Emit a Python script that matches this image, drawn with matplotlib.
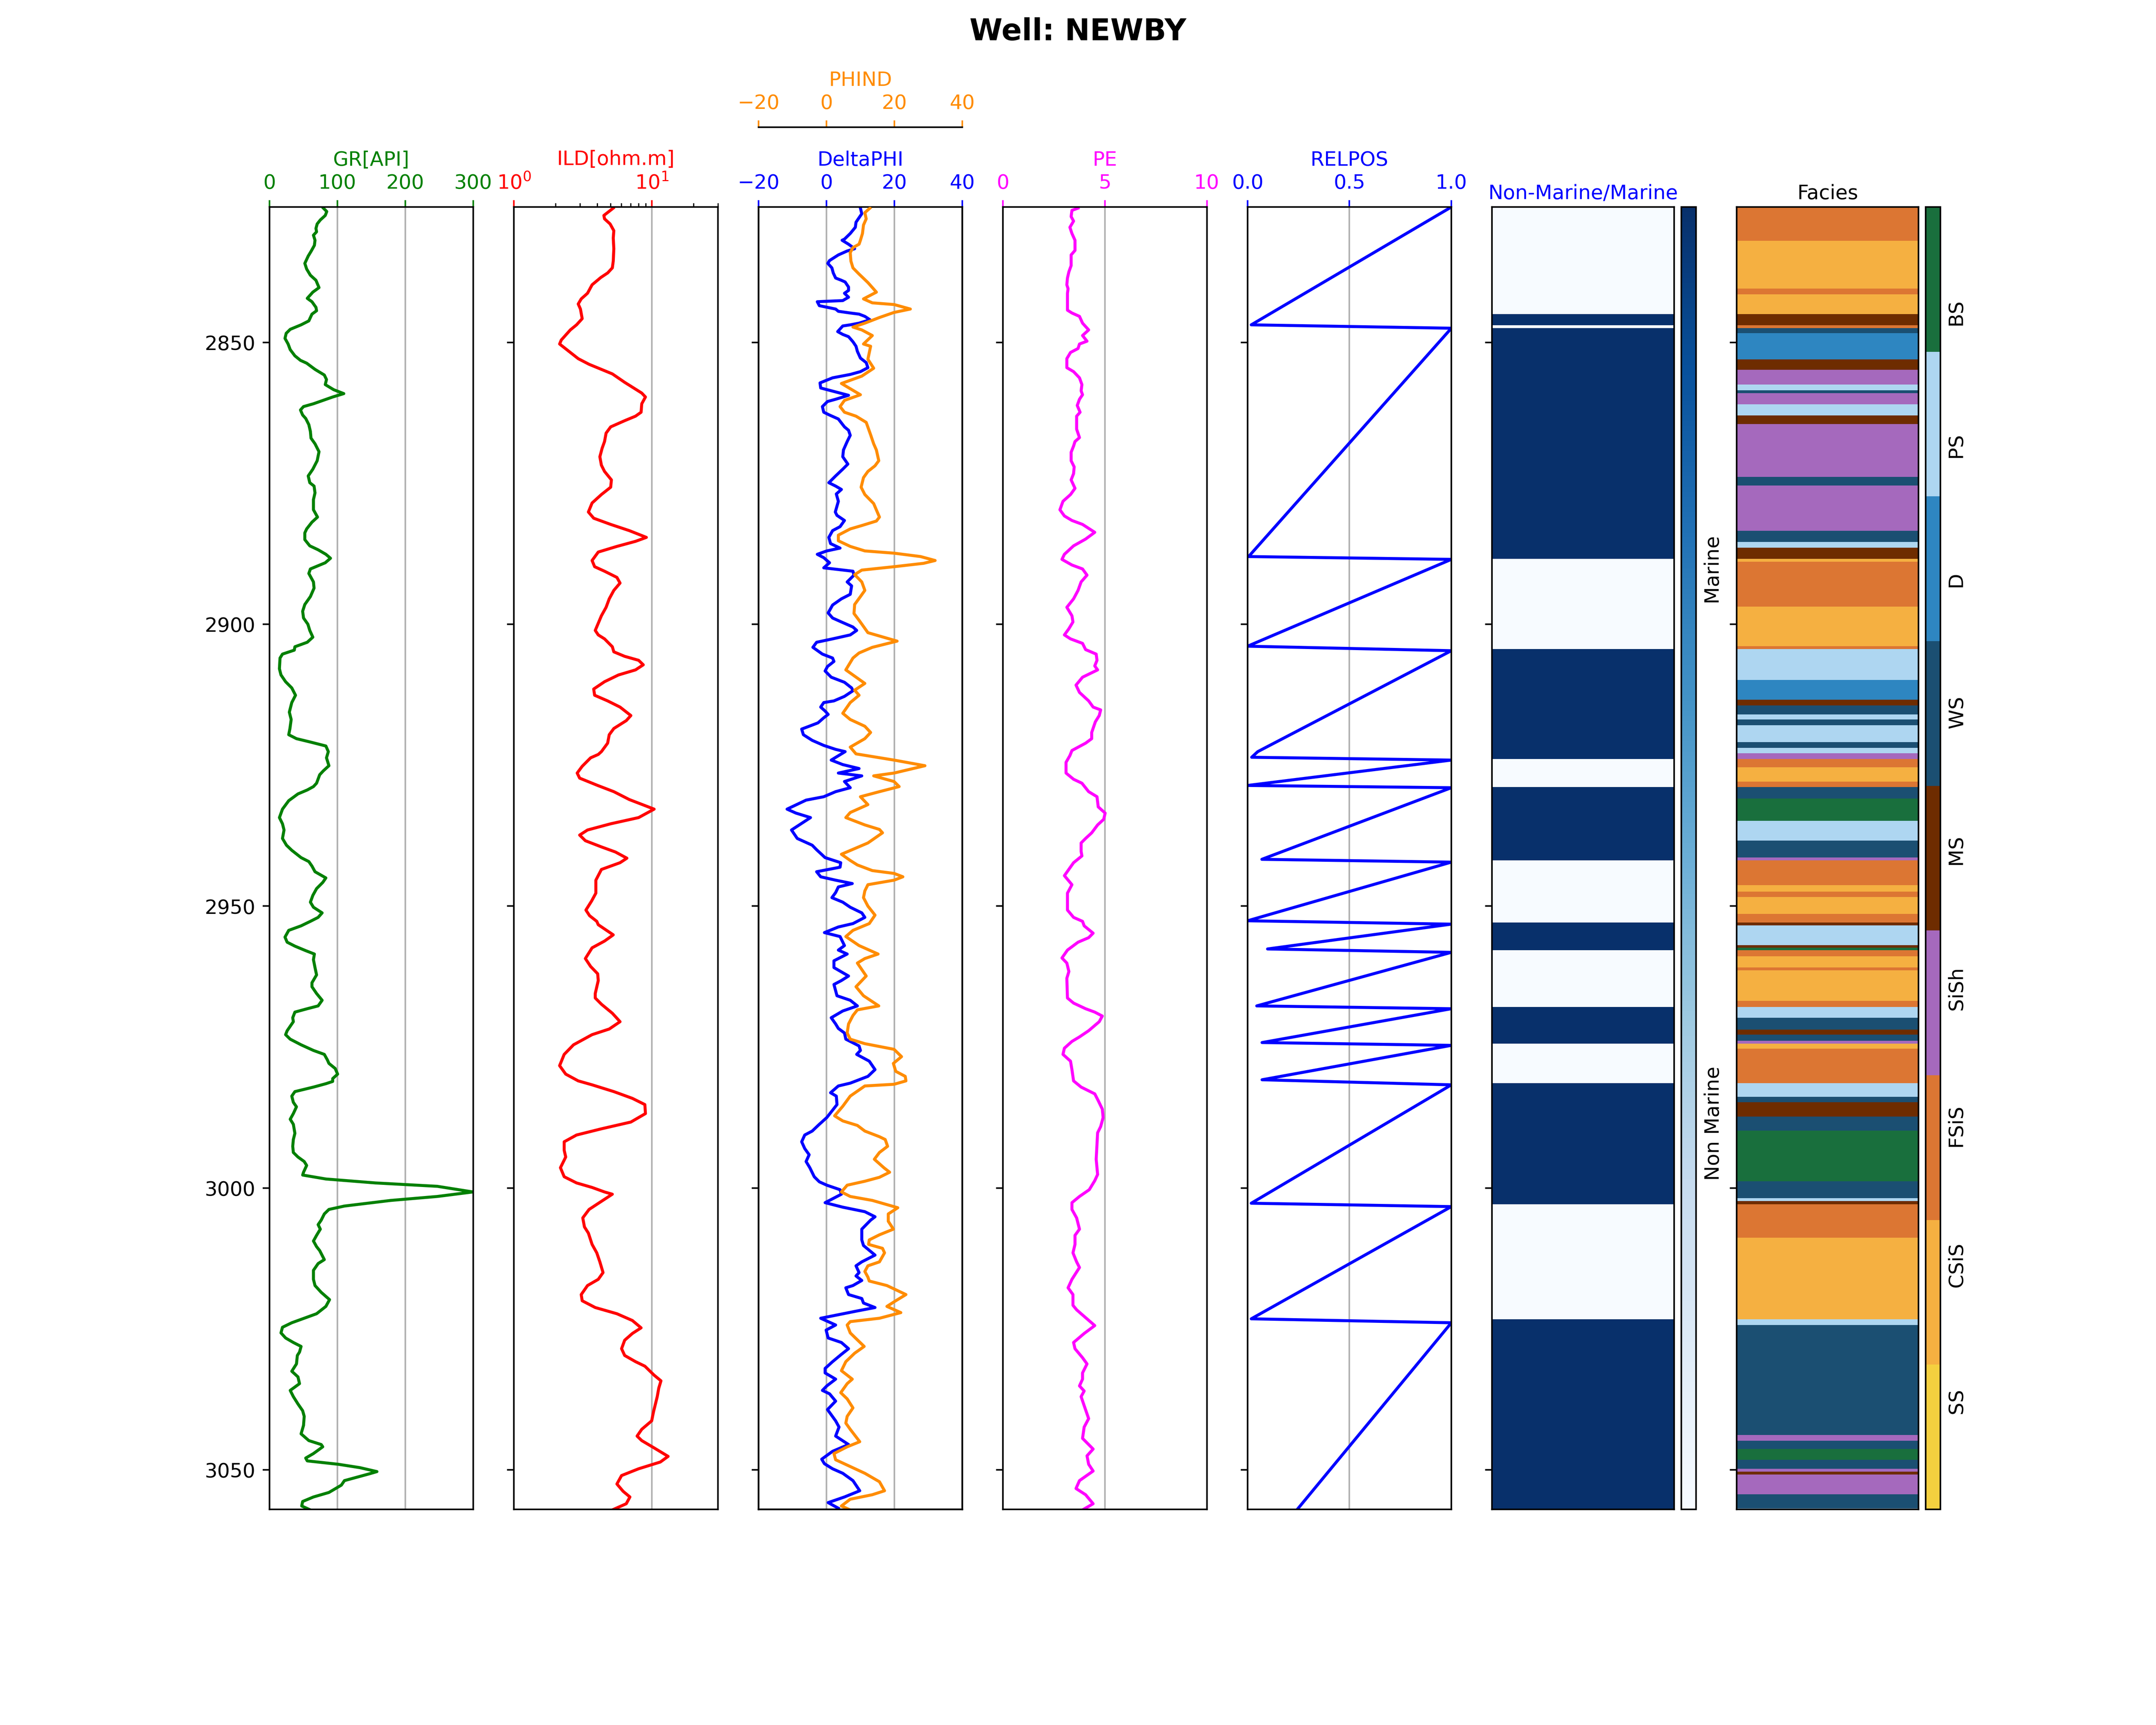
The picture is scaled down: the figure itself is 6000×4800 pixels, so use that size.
import numpy as np
import matplotlib
matplotlib.use("Agg")
import matplotlib.pyplot as plt
from matplotlib.colors import ListedColormap
from mpl_toolkits.axes_grid1 import make_axes_locatable

WELL_NAME = "NEWBY"
DEPTH_TOP = 2826.0
DEPTH_BOT = 3057.0

# ---------------- GR ----------------
GR_DEPTH = [2826.2, 2826.8, 2827.5, 2828.3, 2829.0, 2829.8, 2830.4, 2831.0, 2831.9, 2832.8, 2833.8, 2834.7,
            2836.0, 2837.0, 2838.1, 2839.0, 2840.3, 2841.1, 2842.2, 2842.8, 2843.8, 2844.4, 2845.0, 2846.2,
            2846.9, 2847.7, 2848.4, 2849.3, 2850.3, 2851.3, 2852.4, 2853.2, 2853.7, 2854.8, 2855.8, 2856.6,
            2857.5, 2858.4, 2859.1, 2859.7, 2860.9, 2861.4, 2862.0, 2862.9, 2863.5, 2864.6, 2865.8, 2867.0,
            2868.0, 2869.4, 2871.0, 2872.5, 2873.7, 2874.9, 2875.5, 2876.7, 2877.9, 2879.7, 2881.0, 2881.9,
            2883.1, 2883.8, 2885.0, 2886.1, 2886.8, 2887.6, 2888.3, 2889.1, 2890.2, 2891.0, 2892.5, 2893.6,
            2895.1, 2896.5, 2897.7, 2898.9, 2900.0, 2901.1, 2902.3, 2903.2, 2904.0, 2904.6, 2905.3, 2906.0,
            2907.9, 2909.0, 2910.2, 2911.3, 2912.6, 2913.9, 2915.6, 2916.9, 2918.5, 2919.6, 2920.3, 2920.9,
            2921.6, 2922.6, 2923.7, 2925.1, 2926.0, 2926.7, 2928.2, 2928.8, 2929.4, 2930.1, 2931.3, 2932.8,
            2934.3, 2935.4, 2936.5, 2938.0, 2939.2, 2940.1, 2941.4, 2942.1, 2942.9, 2943.9, 2945.0, 2945.8,
            2946.9, 2948.1, 2949.3, 2950.2, 2951.2, 2952.0, 2952.7, 2953.5, 2954.3, 2955.5, 2956.4, 2957.1,
            2957.9, 2958.5, 2959.5, 2960.9, 2962.2, 2963.6, 2964.3, 2965.5, 2966.7, 2967.7, 2968.2, 2968.8,
            2969.8, 2970.5, 2972.1, 2972.8, 2973.6, 2974.6, 2975.6, 2976.3, 2977.3, 2977.9, 2978.8, 2979.8,
            2980.6, 2981.1, 2981.5, 2982.1, 2982.9, 2983.7, 2984.8, 2985.6, 2986.8, 2987.8, 2988.7, 2990.3,
            2991.4, 2992.6, 2993.7, 2994.5, 2995.3, 2996.0, 2997.2, 2997.7, 2998.4, 2999.1, 2999.7, 3000.7,
            3001.5, 3002.2, 3003.2, 3003.8, 3004.6, 3005.7, 3006.5, 3007.3, 3008.4, 3009.4, 3010.4, 3011.1,
            3012.7, 3013.4, 3014.6, 3016.2, 3017.3, 3018.5, 3019.8, 3021.0, 3022.3, 3023.1, 3023.9, 3024.7,
            3025.7, 3026.6, 3027.4, 3028.1, 3029.1, 3029.7, 3031.2, 3032.5, 3033.5, 3034.7, 3035.9, 3037.0,
            3038.3, 3039.5, 3040.5, 3042.1, 3043.6, 3044.8, 3045.5, 3045.9, 3047.1, 3047.9, 3048.4, 3049.0,
            3049.6, 3050.3, 3050.7, 3051.9, 3052.7, 3054.0, 3054.8, 3055.6, 3056.4, 3057.1]
GR_API = [79.3, 84.3, 82.1, 74.8, 70.2, 68.4, 69.3, 64.7, 67.0, 66.1, 61.5, 57.0,
          52.0, 54.7, 60.2, 68.4, 72.9, 63.8, 55.6, 62.5, 68.4, 69.3, 62.5, 57.9,
          46.5, 30.5, 24.6, 22.8, 27.4, 30.5, 37.4, 45.6, 54.7, 67.0, 80.7, 83.9,
          82.1, 94.4, 109.4, 93.0, 64.7, 50.1, 45.6, 48.8, 53.3, 57.9, 60.2, 61.1,
          67.0, 72.9, 70.2, 63.8, 57.0, 59.3, 65.6, 67.0, 64.7, 64.7, 70.7, 62.5,
          54.7, 52.0, 52.0, 59.3, 71.6, 83.0, 89.8, 82.1, 60.2, 57.9, 64.7, 65.6,
          60.2, 52.0, 48.8, 50.1, 56.5, 59.3, 63.8, 55.6, 37.4, 36.5, 19.1, 15.5,
          14.6, 16.9, 23.7, 32.8, 38.3, 32.8, 29.2, 31.9, 30.1, 28.3, 39.7, 60.2,
          83.0, 86.6, 83.9, 87.5, 79.3, 73.9, 69.3, 64.7, 55.6, 41.9, 28.3, 19.1,
          14.6, 19.1, 21.4, 19.1, 25.0, 32.8, 46.5, 57.9, 62.5, 67.0, 83.0, 78.4,
          69.3, 63.8, 60.2, 64.7, 77.5, 71.6, 60.2, 46.5, 28.3, 22.8, 26.0, 37.4,
          53.3, 66.1, 64.7, 67.0, 69.3, 62.5, 62.5, 69.3, 77.5, 71.6, 55.6, 37.4,
          34.2, 35.1, 26.0, 23.7, 30.5, 46.5, 64.7, 80.7, 85.3, 87.5, 96.7, 100.3,
          93.0, 93.0, 83.0, 64.7, 37.4, 32.8, 35.1, 39.7, 35.1, 30.5, 35.1, 37.4,
          35.1, 34.2, 35.1, 41.9, 51.1, 54.7, 50.1, 48.8, 83.0, 155.9, 247.1, 299.5,
          247.1, 178.7, 110.3, 87.5, 80.7, 76.1, 71.6, 74.8, 69.3, 64.7, 69.3, 73.9,
          80.7, 71.6, 64.7, 64.7, 67.0, 76.1, 88.4, 83.0, 69.3, 51.1, 32.8, 19.1,
          16.9, 23.7, 35.1, 46.5, 44.2, 41.0, 39.7, 32.8, 41.9, 44.2, 30.5, 35.1,
          41.9, 48.8, 51.1, 50.1, 46.5, 57.9, 76.1, 78.4, 64.7, 53.3, 55.6, 101.2,
          133.1, 158.2, 146.8, 110.3, 105.8, 87.5, 64.7, 48.8, 47.4, 60.2]

# ---------------- ILD ----------------
ILD_DEPTH = [2826.2, 2827.5, 2828.1, 2829.0, 2830.2, 2831.5, 2833.4, 2835.6, 2836.8, 2837.7, 2838.5, 2839.8,
             2841.3, 2842.3, 2843.2, 2844.1, 2845.8, 2846.9, 2847.8, 2849.6, 2850.3, 2851.4, 2852.9, 2853.9,
             2854.8, 2855.6, 2857.1, 2859.0, 2859.7, 2860.9, 2862.4, 2863.1, 2863.9, 2865.0, 2866.1, 2867.6,
             2868.8, 2870.3, 2871.8, 2872.9, 2874.4, 2875.7, 2877.0, 2878.5, 2880.1, 2881.2, 2882.3, 2883.4,
             2884.6, 2885.3, 2886.2, 2887.2, 2888.7, 2889.8, 2890.6, 2891.7, 2892.7, 2894.0, 2895.5, 2897.0,
             2898.5, 2901.1, 2901.9, 2902.6, 2904.0, 2904.9, 2905.7, 2906.4, 2907.2, 2908.1, 2909.0, 2910.2,
             2911.5, 2912.6, 2913.6, 2914.7, 2916.2, 2917.1, 2918.5, 2919.6, 2921.1, 2922.6, 2923.1, 2923.7,
             2925.2, 2926.4, 2927.3, 2928.6, 2929.7, 2931.1, 2932.8, 2934.3, 2935.4, 2936.5, 2937.4, 2938.4,
             2939.5, 2940.4, 2941.5, 2942.3, 2943.5, 2945.4, 2947.7, 2949.1, 2950.7, 2951.7, 2952.7, 2953.3,
             2955.1, 2956.2, 2957.4, 2959.3, 2960.7, 2962.0, 2963.2, 2965.5, 2966.3, 2967.4, 2969.0, 2970.5,
             2971.8, 2972.8, 2974.6, 2976.3, 2978.3, 2979.8, 2981.0, 2981.7, 2982.9, 2984.1, 2985.2, 2986.8,
             2988.3, 2989.5, 2990.6, 2991.8, 2993.3, 2994.5, 2996.4, 2998.0, 2999.1, 2999.9, 3000.7, 3001.1,
             3002.0, 3003.8, 3005.3, 3006.9, 3008.0, 3010.0, 3011.5, 3013.1, 3015.0, 3016.2, 3017.3, 3018.9,
             3020.0, 3021.2, 3022.3, 3023.5, 3024.8, 3025.8, 3027.0, 3028.5, 3029.7, 3030.8, 3031.6, 3033.2,
             3034.2, 3035.5, 3037.0, 3039.7, 3041.3, 3042.8, 3044.0, 3044.8, 3046.1, 3047.6, 3048.6, 3049.8,
             3051.0, 3052.5, 3053.8, 3054.8, 3056.0, 3057.1]
ILD_OHMM = [5.24, 4.48, 4.53, 4.97, 5.29, 5.24, 5.29, 5.24, 5.16, 4.77, 4.26, 3.68,
            3.41, 3.07, 2.92, 3.03, 3.12, 2.84, 2.56, 2.20, 2.14, 2.44, 2.92, 3.50,
            4.30, 5.16, 6.34, 8.43, 8.97, 8.43, 8.34, 7.60, 6.34, 5.02, 4.65, 4.53,
            4.35, 4.19, 4.30, 4.53, 5.08, 5.02, 4.30, 3.68, 3.46, 3.78, 5.02, 6.85,
            9.11, 7.60, 5.57, 4.08, 3.68, 3.84, 4.53, 5.57, 5.87, 5.29, 4.90, 4.65,
            4.30, 3.88, 4.08, 4.53, 5.16, 5.29, 6.34, 8.00, 8.65, 7.60, 5.72, 4.53,
            3.78, 3.84, 4.77, 5.87, 7.03, 6.51, 5.29, 4.90, 4.77, 4.30, 4.08, 3.59,
            3.12, 2.87, 2.99, 4.04, 5.29, 6.85, 10.37, 8.00, 5.02, 3.41, 2.99, 3.29,
            4.30, 5.43, 6.58, 5.87, 4.30, 3.92, 3.92, 3.65, 3.32, 3.53, 3.98, 4.08,
            5.24, 4.53, 3.68, 3.29, 3.59, 4.04, 4.08, 3.88, 3.88, 4.30, 5.16, 5.87,
            4.90, 3.68, 2.70, 2.31, 2.14, 2.37, 2.92, 3.68, 5.29, 7.21, 8.88, 8.97,
            7.03, 4.30, 2.84, 2.31, 2.31, 2.37, 2.17, 2.31, 2.84, 3.68, 4.53, 5.16,
            4.53, 3.50, 3.15, 3.24, 3.46, 3.68, 3.98, 4.19, 4.42, 4.08, 3.41, 3.07,
            3.12, 3.88, 5.57, 7.21, 8.34, 7.21, 6.34, 6.02, 6.34, 7.60, 8.88, 10.37,
            11.62, 11.20, 10.92, 10.26, 9.95, 8.43, 7.80, 8.43, 10.37, 13.09, 11.50, 8.00,
            6.02, 5.57, 6.18, 6.92, 6.51, 5.16]

# ---------------- DeltaPHI ----------------
DPHI_DEPTH = [2826.2, 2827.2, 2827.9, 2828.7, 2829.6, 2830.7, 2831.7, 2831.9, 2832.6, 2833.4, 2833.8, 2834.5,
              2835.5, 2836.0, 2836.8, 2837.7, 2838.6, 2839.0, 2839.3, 2840.2, 2840.8, 2841.3, 2842.0, 2842.6,
              2842.7, 2842.8, 2843.5, 2844.1, 2844.5, 2844.8, 2845.0, 2845.4, 2846.0, 2846.6, 2846.9, 2847.1,
              2848.1, 2848.6, 2849.0, 2849.9, 2850.7, 2851.6, 2852.8, 2853.6, 2854.5, 2855.2, 2855.7, 2856.3,
              2857.2, 2858.1, 2858.8, 2859.4, 2860.1, 2860.5, 2861.4, 2862.4, 2862.9, 2863.6, 2865.0, 2865.6,
              2866.5, 2867.6, 2869.1, 2870.3, 2871.6, 2872.5, 2873.7, 2874.9, 2875.5, 2876.1, 2876.9, 2878.2,
              2880.1, 2880.7, 2881.6, 2882.7, 2883.4, 2884.6, 2885.7, 2886.5, 2887.0, 2887.6, 2888.2, 2889.1,
              2890.0, 2890.6, 2891.3, 2892.5, 2893.2, 2894.7, 2895.5, 2896.6, 2898.0, 2898.9, 2899.6, 2900.5,
              2901.1, 2901.9, 2902.6, 2903.2, 2904.1, 2905.3, 2906.0, 2906.6, 2907.5, 2908.3, 2909.4, 2910.3,
              2911.3, 2911.8, 2912.8, 2913.6, 2913.9, 2914.7, 2915.4, 2916.0, 2916.6, 2917.5, 2918.1, 2918.6,
              2919.6, 2920.6, 2921.5, 2922.2, 2922.6, 2924.1, 2924.9, 2925.6, 2926.4, 2926.9, 2927.9, 2929.0,
              2929.7, 2930.6, 2931.2, 2932.8, 2933.5, 2934.3, 2936.5, 2938.0, 2939.2, 2940.0, 2941.4, 2942.3,
              2943.1, 2943.9, 2944.8, 2945.4, 2946.0, 2946.6, 2947.6, 2948.5, 2949.3, 2950.2, 2951.2, 2952.0,
              2953.1, 2953.7, 2954.7, 2955.4, 2957.0, 2957.8, 2958.5, 2959.7, 2960.9, 2962.4, 2963.2, 2963.9,
              2965.9, 2966.7, 2967.7, 2968.6, 2969.8, 2970.9, 2971.7, 2972.5, 2973.6, 2974.8, 2975.6, 2976.3,
              2977.5, 2979.0, 2980.2, 2981.4, 2981.9, 2983.1, 2983.7, 2985.2, 2986.5, 2987.5, 2988.7, 2989.9,
              2990.6, 2991.8, 2993.0, 2994.1, 2995.3, 2996.4, 2998.0, 2998.9, 2999.5, 3000.3, 3001.1, 3002.6,
              3003.4, 3004.2, 3005.1, 3005.7, 3007.3, 3009.2, 3010.2, 3011.9, 3013.1, 3013.8, 3015.0, 3015.6,
              3016.4, 3017.3, 3017.7, 3018.9, 3019.6, 3020.4, 3021.2, 3021.8, 3023.1, 3024.3, 3025.2, 3026.6,
              3027.4, 3028.5, 3029.5, 3030.8, 3032.0, 3032.8, 3033.9, 3035.1, 3035.9, 3036.5, 3037.8, 3039.3,
              3041.3, 3042.4, 3044.0, 3045.5, 3046.7, 3048.1, 3048.9, 3049.8, 3050.6, 3051.9, 3053.7, 3054.8,
              3055.8, 3056.8]
DPHI = [10.0, 10.4, 9.6, 8.7, 8.5, 7.0, 5.3, 4.6, 6.5, 8.3, 6.1, 3.5,
        0.9, 0.4, 1.6, 2.0, 2.7, 4.4, 5.5, 6.5, 6.5, 5.3, 6.5, 4.8,
        0.9, -2.7, -2.1, 2.7, 3.5, 7.0, 9.6, 11.3, 12.8, 9.6, 7.0, 4.8,
        3.3, 4.8, 6.5, 7.8, 8.7, 9.1, 10.0, 11.7, 12.2, 10.0, 7.0, 1.8,
        -1.9, -1.7, 2.7, 6.5, 2.7, 0.3, -1.2, -0.8, 0.9, 3.5, 5.3, 6.5,
        7.0, 6.1, 5.0, 4.8, 6.3, 4.8, 2.7, 0.7, 2.7, 4.4, 2.9, 3.5,
        2.6, 3.1, 5.3, 4.0, 1.8, 0.7, 1.2, 4.0, 0.1, -2.7, -0.8, 0.9,
        -0.8, 7.8, 8.1, 6.1, 7.4, 7.0, 4.4, 1.8, 0.5, 1.8, 4.4, 7.8,
        8.9, 7.0, 1.8, -2.9, -4.0, -1.2, 1.8, 2.2, 0.3, -0.4, 1.4, 5.3,
        7.4, 7.8, 5.3, 2.2, -0.8, -1.7, -0.4, 0.5, -0.8, -2.5, -5.1, -7.3,
        -6.8, -4.2, -0.8, 2.7, 5.5, 1.4, 4.8, 9.6, 3.5, 10.4, 5.3, 7.0,
        2.7, -0.8, -6.0, -11.6, -9.0, -4.7, -10.3, -8.6, -4.2, -2.9, -0.4, 4.2,
        4.0, -2.9, -1.7, 2.7, 7.6, 3.5, 2.7, 1.6, 4.8, 7.0, 10.4, 11.3,
        7.8, 3.5, -0.6, 4.0, 5.3, 3.5, 6.1, 2.2, 2.2, 6.5, 4.4, 2.2,
        3.1, 7.0, 9.1, 4.8, 1.4, 2.7, 3.5, 5.3, 5.7, 9.6, 10.0, 8.9,
        12.6, 14.3, 12.2, 7.0, 3.5, 1.2, 2.9, 3.1, 1.4, 0.1, -2.1, -4.2,
        -6.4, -7.3, -6.4, -5.1, -6.0, -4.9, -3.6, -2.1, 0.1, 4.0, 4.4, -0.4,
        4.8, 11.3, 14.3, 13.0, 10.4, 10.4, 10.9, 14.3, 10.4, 8.7, 9.6, 8.7,
        10.4, 7.8, 5.7, 6.5, 10.4, 10.9, 14.3, 9.1, -1.7, 2.7, -0.1, 0.5,
        4.4, 6.5, 4.4, 1.8, -0.4, -0.4, 2.7, 0.1, -1.2, 0.9, 2.7, 0.3,
        2.7, 3.7, 2.7, 6.5, 1.8, -1.4, -0.6, 1.8, 4.8, 7.8, 9.8, 5.3,
        0.5, 3.5]

# ---------------- PHIND ----------------
PHIND_DEPTH = [2826.2, 2827.0, 2828.1, 2829.2, 2830.7, 2831.9, 2832.6, 2833.2, 2834.1, 2835.6, 2836.8, 2837.9,
               2839.4, 2841.1, 2842.3, 2843.0, 2843.3, 2844.1, 2844.7, 2845.6, 2846.6, 2847.3, 2847.8, 2848.8,
               2850.3, 2850.7, 2853.0, 2854.6, 2856.0, 2857.3, 2859.3, 2860.3, 2861.4, 2862.4, 2863.1, 2864.2,
               2866.4, 2868.0, 2869.1, 2871.0, 2871.9, 2872.9, 2874.0, 2875.7, 2877.0, 2878.6, 2881.0, 2881.7,
               2882.5, 2883.1, 2884.2, 2885.2, 2886.2, 2887.0, 2887.4, 2888.0, 2888.7, 2889.2, 2889.8, 2890.4,
               2891.2, 2892.5, 2894.0, 2895.1, 2896.5, 2898.1, 2899.3, 2900.4, 2901.5, 2903.0, 2904.1, 2905.1,
               2906.0, 2908.1, 2909.0, 2910.5, 2911.7, 2912.6, 2913.9, 2915.8, 2916.9, 2918.1, 2919.2, 2920.3,
               2921.8, 2923.0, 2924.1, 2925.1, 2926.4, 2926.9, 2927.9, 2928.8, 2929.7, 2930.6, 2932.0, 2933.4,
               2934.3, 2935.6, 2936.4, 2937.0, 2938.8, 2940.8, 2941.9, 2942.7, 2943.7, 2944.2, 2944.8, 2945.4,
               2946.2, 2947.3, 2948.5, 2950.0, 2951.6, 2953.1, 2954.3, 2955.4, 2957.0, 2958.5, 2959.3, 2960.1,
               2962.4, 2964.3, 2965.9, 2967.7, 2968.4, 2969.4, 2970.9, 2972.5, 2973.6, 2974.4, 2974.9, 2975.4,
               2976.7, 2977.9, 2979.3, 2980.2, 2981.0, 2981.6, 2981.9, 2983.7, 2985.5, 2987.2, 2988.1, 2988.9,
               2989.9, 2990.9, 2991.4, 2992.6, 2993.7, 2994.9, 2996.4, 2997.2, 2998.1, 2998.8, 2999.5, 3000.7,
               3001.5, 3002.2, 3003.5, 3004.6, 3005.9, 3007.3, 3008.3, 3009.2, 3010.0, 3010.7, 3011.5, 3013.1,
               3013.8, 3014.8, 3015.8, 3016.5, 3017.3, 3018.9, 3020.0, 3021.0, 3022.1, 3023.1, 3023.7, 3024.3,
               3025.7, 3026.7, 3028.1, 3029.3, 3030.8, 3032.4, 3033.9, 3034.7, 3036.3, 3037.4, 3039.0, 3040.5,
               3041.7, 3042.8, 3045.0, 3045.9, 3047.1, 3048.2, 3049.4, 3050.6, 3052.1, 3053.7, 3054.4, 3055.2,
               3056.4, 3057.1]
PHIND = [12.8, 11.3, 11.7, 10.9, 10.6, 10.0, 9.6, 7.8, 7.0, 7.2, 7.8, 9.6,
         12.2, 14.7, 10.9, 13.5, 19.9, 24.7, 19.9, 15.6, 11.3, 7.8, 10.4, 13.5,
         10.9, 13.0, 12.2, 13.9, 10.4, 4.4, 10.0, 5.3, 4.0, 5.3, 8.7, 11.7,
         13.0, 13.9, 14.7, 15.4, 14.3, 12.2, 10.9, 10.2, 11.3, 13.9, 15.6, 14.7,
         10.4, 7.0, 3.5, 3.5, 7.0, 11.3, 19.9, 27.7, 32.0, 28.6, 19.9, 10.4,
         8.3, 10.4, 11.3, 10.0, 8.3, 8.1, 9.6, 10.9, 12.2, 20.8, 13.5, 9.6,
         7.8, 5.7, 7.8, 11.3, 8.3, 9.6, 7.0, 4.8, 7.0, 11.3, 13.0, 11.3,
         7.0, 8.7, 19.9, 29.0, 19.9, 13.9, 19.9, 21.4, 15.6, 10.0, 12.2, 7.0,
         5.7, 11.3, 15.6, 16.5, 12.2, 4.4, 7.0, 9.1, 13.5, 19.9, 22.5, 19.9,
         12.2, 11.3, 10.9, 12.2, 14.3, 12.6, 7.8, 5.7, 9.6, 15.2, 11.3, 9.1,
         11.7, 8.7, 10.9, 15.4, 9.1, 7.8, 6.5, 6.1, 7.0, 11.3, 15.6, 19.9,
         22.1, 19.7, 20.4, 23.2, 23.4, 19.9, 11.3, 7.0, 4.8, 2.4, 4.8, 9.1,
         11.3, 15.6, 17.3, 18.0, 15.6, 14.1, 16.9, 18.6, 15.6, 11.3, 6.1, 4.4,
         7.0, 13.5, 21.0, 18.2, 18.2, 19.7, 15.6, 12.6, 12.4, 16.5, 17.1, 15.6,
         12.2, 11.3, 12.2, 12.6, 17.8, 23.4, 20.4, 17.8, 21.9, 15.6, 7.0, 6.1,
         7.0, 8.7, 11.1, 8.3, 5.7, 4.4, 7.6, 6.1, 4.2, 6.1, 7.8, 6.1,
         5.7, 7.0, 9.8, 6.1, 2.2, 2.7, 7.0, 11.3, 15.6, 17.1, 13.5, 7.0,
         4.4, 7.0]

# ---------------- PE ----------------
PE_DEPTH = [2826.2, 2826.6, 2827.7, 2828.5, 2829.6, 2830.7, 2831.9, 2833.7, 2834.5, 2836.4, 2837.5, 2838.6,
            2839.8, 2840.5, 2841.3, 2844.3, 2844.8, 2845.4, 2846.6, 2847.8, 2848.8, 2849.8, 2850.3, 2851.1,
            2851.8, 2852.9, 2854.5, 2855.2, 2856.3, 2857.5, 2858.6, 2859.3, 2860.1, 2861.2, 2862.4, 2863.1,
            2865.4, 2866.9, 2867.6, 2868.4, 2869.5, 2871.0, 2872.1, 2873.3, 2874.4, 2875.9, 2877.0, 2878.2,
            2879.7, 2880.8, 2881.6, 2882.3, 2883.7, 2884.9, 2886.1, 2887.6, 2888.5, 2889.5, 2890.2, 2891.3,
            2892.5, 2894.0, 2895.5, 2897.0, 2898.5, 2899.6, 2900.8, 2901.9, 2902.6, 2903.4, 2904.5, 2905.3,
            2906.4, 2907.4, 2908.1, 2909.4, 2910.8, 2912.1, 2913.6, 2914.7, 2915.2, 2916.2, 2917.3, 2919.2,
            2920.3, 2921.1, 2922.4, 2923.3, 2924.5, 2926.4, 2927.5, 2928.2, 2929.7, 2930.6, 2932.4, 2933.5,
            2934.6, 2935.6, 2937.0, 2938.0, 2938.8, 2940.3, 2941.1, 2942.3, 2944.6, 2946.2, 2947.7, 2950.7,
            2952.0, 2952.7, 2953.5, 2954.8, 2955.6, 2956.4, 2957.8, 2959.2, 2960.1, 2961.6, 2962.8, 2966.3,
            2967.2, 2968.2, 2968.8, 2969.5, 2970.5, 2972.1, 2973.2, 2974.0, 2975.2, 2976.3, 2977.5, 2979.0,
            2981.0, 2982.1, 2983.3, 2984.5, 2986.0, 2987.5, 2989.1, 2990.2, 2992.2, 2994.9, 2997.6, 2998.7,
            3000.3, 3001.5, 3002.6, 3003.8, 3005.3, 3007.3, 3008.4, 3010.0, 3011.5, 3013.1, 3014.1, 3016.2,
            3017.7, 3018.9, 3020.8, 3021.6, 3022.3, 3024.4, 3025.8, 3027.4, 3028.5, 3030.1, 3031.2, 3032.8,
            3033.9, 3035.1, 3036.0, 3037.0, 3038.6, 3040.9, 3042.4, 3044.4, 3046.3, 3047.5, 3049.0, 3050.2,
            3051.9, 3053.3, 3054.4, 3056.0, 3057.1]
PE = [3.68, 3.38, 3.34, 3.46, 3.28, 3.38, 3.53, 3.53, 3.34, 3.34, 3.23, 3.16,
      3.13, 3.19, 3.16, 3.16, 3.38, 3.75, 3.90, 4.20, 3.90, 4.12, 3.75, 3.68,
      3.31, 3.13, 3.13, 3.46, 3.75, 3.87, 3.83, 3.90, 3.75, 3.64, 3.78, 3.61,
      3.61, 3.75, 3.53, 3.46, 3.34, 3.34, 3.49, 3.46, 3.34, 3.53, 3.31, 2.94,
      2.79, 3.01, 3.38, 3.90, 4.50, 4.05, 3.46, 3.01, 2.89, 3.38, 3.90, 4.12,
      3.83, 3.68, 3.46, 3.13, 3.38, 3.43, 3.23, 3.01, 3.31, 3.90, 4.05, 4.57,
      4.61, 4.50, 4.64, 3.90, 3.58, 3.75, 4.20, 4.42, 4.79, 4.72, 4.53, 4.35,
      4.35, 4.05, 3.38, 3.28, 3.09, 3.09, 3.46, 3.87, 4.20, 4.61, 4.67, 5.01,
      4.94, 4.64, 4.35, 4.05, 3.83, 3.83, 3.87, 3.46, 3.01, 3.38, 3.16, 3.16,
      3.46, 3.90, 3.98, 4.42, 4.20, 3.68, 3.16, 2.89, 3.13, 3.23, 3.13, 3.16,
      3.46, 4.05, 4.50, 4.87, 4.72, 4.20, 3.75, 3.38, 3.01, 2.94, 3.31, 3.38,
      3.46, 3.83, 4.50, 4.67, 4.87, 4.91, 4.79, 4.64, 4.61, 4.57, 4.64, 4.50,
      4.23, 3.75, 3.38, 3.38, 3.61, 3.75, 3.53, 3.53, 3.43, 3.61, 3.75, 3.38,
      3.19, 3.43, 3.43, 3.61, 3.83, 4.50, 3.98, 3.46, 3.53, 3.90, 4.12, 3.90,
      3.90, 3.75, 3.98, 3.83, 3.98, 4.20, 3.98, 3.90, 4.42, 4.12, 4.20, 4.42,
      3.75, 3.58, 4.05, 4.42, 3.90]

# ---------------- RELPOS ----------------
RELPOS_DEPTH = [2826.0, 2846.9, 2847.5, 2888.0, 2888.5, 2903.9, 2904.7, 2922.6, 2923.6, 2924.1,
                2928.6, 2929.0, 2941.7, 2942.2, 2952.6, 2953.2, 2957.6, 2958.2, 2967.7, 2968.2,
                2974.2, 2974.7, 2980.8, 2981.7, 3002.7, 3003.3, 3023.2, 3023.9, 3057.0]
RELPOS = [1.0, 0.018, 1.0, 0.005, 1.0, 0.0, 1.0, 0.05, 0.02, 1.0,
          0.0, 1.0, 0.07, 1.0, 0.0, 1.0, 0.098, 1.0, 0.045, 1.0,
          0.071, 1.0, 0.071, 1.0, 0.018, 1.0, 0.018, 1.0, 0.244]

# ---------------- Non-marine / marine (1 = non marine, 2 = marine) ----------------
NM_TOP = [2826.0, 2845.0, 2847.0, 2847.5, 2888.4, 2904.4, 2923.9, 2928.9, 2941.9, 2952.9,
          2957.8, 2967.9, 2974.4, 2981.4, 3002.9, 3023.3]
NM_M = [1, 2, 1, 2, 1, 2, 1, 2, 1, 2, 1, 2, 1, 2, 1, 2]

# ---------------- Facies ----------------
FACIES_LABELS = ['SS', 'CSiS', 'FSiS', 'SiSh', 'MS', 'WS', 'D', 'PS', 'BS']
FACIES_COLORS = ['#F4D03F', '#F5B041', '#DC7633', '#A569BD', '#6E2C00',
                 '#1B4F72', '#2E86C1', '#AED6F1', '#196F3D']
FACIES_TOP = [2826.0, 2832.0, 2840.5, 2841.5, 2845.0, 2847.0, 2847.5, 2848.4, 2853.0, 2854.9,
              2857.5, 2858.5, 2859.0, 2861.0, 2863.0, 2864.5, 2873.9, 2875.4, 2883.4, 2885.4,
              2886.4, 2888.4, 2888.9, 2896.9, 2903.9, 2904.4, 2909.9, 2913.4, 2914.4, 2916.0,
              2916.9, 2917.9, 2920.9, 2921.9, 2922.9, 2923.9, 2925.4, 2927.9, 2928.9, 2930.9,
              2934.9, 2938.4, 2941.4, 2941.9, 2946.3, 2947.4, 2948.4, 2951.4, 2952.9, 2953.4,
              2956.9, 2957.4, 2957.8, 2958.9, 2960.9, 2961.4, 2966.8, 2967.9, 2969.8, 2971.9,
              2972.8, 2973.9, 2974.4, 2975.3, 2981.4, 2983.8, 2984.8, 2987.3, 2989.8, 2998.8,
              3001.8, 3002.3, 3002.9, 3008.8, 3023.3, 3024.3, 3043.8, 3044.8, 3046.3, 3048.2,
              3049.8, 3050.3, 3050.8, 3054.3, 3056.8]
FACIES = [3, 2, 3, 2, 5, 3, 6, 7, 5, 4,
          8, 6, 4, 8, 5, 4, 6, 4, 6, 8,
          5, 2, 3, 2, 3, 8, 7, 5, 6, 8,
          6, 8, 6, 8, 4, 3, 2, 3, 6, 9,
          8, 6, 4, 3, 2, 3, 2, 3, 5, 8,
          5, 9, 3, 2, 3, 2, 3, 8, 6, 5,
          6, 4, 2, 3, 8, 6, 5, 6, 9, 6,
          8, 5, 3, 2, 8, 6, 4, 6, 9, 6,
          4, 5, 4, 6, 8]

# =====================================================================
plt.rcParams['font.family'] = ['DejaVu Sans']
fig, axes = plt.subplots(1, 7, figsize=(15, 12), sharey=True)
fig.subplots_adjust(left=0.125, right=0.9, bottom=0.125, top=0.88, wspace=0.2)
fig.suptitle('Well: %s' % WELL_NAME, fontsize=15, fontweight='bold', y=0.99)

# PHIND on twin axis of the DeltaPHI track (created first, the host is formatted afterwards)
tw = axes[2].twiny()
tw.plot(PHIND, PHIND_DEPTH, color='darkorange', lw=1.5)
tw.set_xlim(-20, 40)
tw.set_xticks([-20, 0, 20, 40])
tw.spines['top'].set_position(('outward', 40))
tw.xaxis.tick_top()
tw.xaxis.set_label_position('top')
tw.set_xlabel('PHIND', color='darkorange')
tw.tick_params(axis='x', colors='darkorange')

curve_specs = [
    (axes[0], GR_API, GR_DEPTH, 'green', 'GR[API]', (0, 300), 'linear', [0, 100, 200, 300]),
    (axes[1], ILD_OHMM, ILD_DEPTH, 'red', 'ILD[ohm.m]', (1, 30), 'log', None),
    (axes[2], DPHI, DPHI_DEPTH, 'blue', 'DeltaPHI', (-20, 40), 'linear', [-20, 0, 20, 40]),
    (axes[3], PE, PE_DEPTH, 'magenta', 'PE', (0, 10), 'linear', [0, 5, 10]),
    (axes[4], RELPOS, RELPOS_DEPTH, 'blue', 'RELPOS', (0, 1), 'linear', [0.0, 0.5, 1.0]),
]
for ax, vals, dep, col, lab, lim, scale, ticks in curve_specs:
    ax.plot(vals, dep, color=col, lw=1.5)
    ax.set_xscale(scale)
    ax.set_xlim(lim)
    if ticks is not None:
        ax.set_xticks(ticks)
    ax.xaxis.tick_top()
    ax.xaxis.set_label_position('top')
    ax.set_xlabel(lab, color=col)
    ax.tick_params(axis='x', colors=col)
    ax.grid(True, axis='x')

axes[0].set_ylim(DEPTH_BOT, DEPTH_TOP)

# Non-marine / marine column
nm_edges = NM_TOP + [DEPTH_BOT]
m1 = axes[5].pcolormesh([0, 1], nm_edges, np.array(NM_M, dtype=float).reshape(-1, 1),
                        cmap='Blues', vmin=1, vmax=2)
axes[5].set_xlim(0, 1)
axes[5].set_xticks([])
axes[5].xaxis.set_label_position('top')
axes[5].set_xlabel('Non-Marine/Marine', color='blue')
div5 = make_axes_locatable(axes[5])
cax5 = div5.append_axes('right', size='8%', pad=0.05)
cb5 = fig.colorbar(m1, cax=cax5)
cb5.set_ticks([])
cb5.set_label('Non Marine' + 73 * ' ' + 'Marine')

# Facies column
fac_edges = FACIES_TOP + [DEPTH_BOT]
cmap_fac = ListedColormap(FACIES_COLORS)
m2 = axes[6].pcolormesh([0, 1], fac_edges, np.array(FACIES, dtype=float).reshape(-1, 1),
                        cmap=cmap_fac, vmin=1, vmax=9)
axes[6].set_xlim(0, 1)
axes[6].set_xticks([])
axes[6].xaxis.set_label_position('top')
axes[6].set_xlabel('Facies')
div6 = make_axes_locatable(axes[6])
cax6 = div6.append_axes('right', size='8%', pad=0.05)
cb6 = fig.colorbar(m2, cax=cax6)
cb6.set_ticks([])
fac_tokens = [' SS ', 'CSiS', 'FSiS', 'SiSh', ' MS ', ' WS ', ' D  ', ' PS ', ' BS ']
cb6.set_label((15 * ' ').join(fac_tokens))

fig.savefig('out.png', dpi=400)
